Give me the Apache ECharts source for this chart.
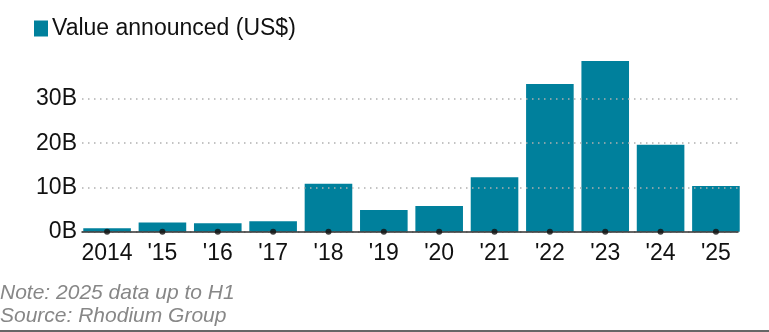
<!DOCTYPE html>
<html>
<head>
<meta charset="utf-8">
<script src="https://cdn.jsdelivr.net/npm/echarts@6/dist/echarts.min.js"></script>
<style>
  html, body { margin: 0; padding: 0; background: #fff; }
  #chart { width: 769px; height: 332px; }
</style>
</head>
<body>
<div id="chart"></div>
<script>
// Announced investment value per year, in US$ billions
const categories = ['2014', "'15", "'16", "'17", "'18", "'19", "'20", "'21", "'22", "'23", "'24", "'25"];
const valuesBn = [0.77, 2.1, 1.9, 2.35, 10.8, 4.9, 5.8, 12.3, 33.3, 38.5, 19.6, 10.3];
const yTicks = [0, 10, 20, 30];
const seriesName = 'Value announced (US$)';
const noteLines = ['Note: 2025 data up to H1', 'Source: Rhodium Group'];

const TEAL = '#00809c';
const FONT = '"Liberation Sans", Arial, Helvetica, sans-serif';

const chart = echarts.init(document.getElementById('chart'), null, { renderer: 'canvas' });

chart.setOption({
  animation: false,
  backgroundColor: '#fff',
  legend: {
    data: [{ name: seriesName, icon: 'rect' }],
    left: 29, top: 12,
    itemWidth: 14, itemHeight: 16, itemGap: 10,
    textStyle: { fontFamily: FONT, fontSize: 23, color: '#111', padding: [0, 0, 0, -1] }
  },
  grid: [
    // bars
    { left: 79.4, right: 25.4, top: 54.4, bottom: 100.3 },
    // gridlines, baseline and value labels
    { left: 82, right: 31, top: 99, bottom: 100.3 }
  ],
  xAxis: [
    {
      type: 'category', gridIndex: 0, data: categories,
      axisLine: { show: false }, axisTick: { show: false },
      axisLabel: { fontFamily: FONT, fontSize: 23, color: '#111', margin: 10, interval: 0 }
    },
    {
      type: 'category', gridIndex: 1, data: categories,
      axisLine: { show: true, lineStyle: { color: '#333', width: 1.5 } },
      axisTick: { show: false }, axisLabel: { show: false }, z: 4
    }
  ],
  yAxis: [
    {
      type: 'value', gridIndex: 0, min: 0, max: 40, interval: 10,
      axisLine: { show: false }, axisTick: { show: false },
      axisLabel: { show: false }, splitLine: { show: false }
    },
    {
      type: 'value', gridIndex: 1, min: yTicks[0], max: yTicks[yTicks.length - 1], interval: 10,
      axisLine: { show: false }, axisTick: { show: false },
      axisLabel: {
        fontFamily: FONT, fontSize: 23, color: '#111', margin: 5,
        formatter: v => v + 'B'
      },
      splitLine: { show: true, lineStyle: { color: '#b0b0b0', width: 1.5, type: [1.5, 4.5] } },
      z: 3
    }
  ],
  series: [
    {
      name: seriesName, type: 'bar', xAxisIndex: 0, yAxisIndex: 0,
      data: valuesBn, barCategoryGap: '14%',
      itemStyle: { color: TEAL }
    },
    {
      // tick dots at each category on the baseline
      type: 'scatter', xAxisIndex: 0, yAxisIndex: 0,
      data: categories.map(() => 0),
      symbol: 'circle', symbolSize: 6,
      itemStyle: { color: '#111' }, z: 5, silent: true
    }
  ],
  graphic: [
    {
      type: 'text', left: 0, top: 283,
      style: { text: noteLines[0], fontFamily: FONT, fontSize: 21, fontStyle: 'italic', fill: '#878787' }
    },
    {
      type: 'text', left: 0, top: 306,
      style: { text: noteLines[1], fontFamily: FONT, fontSize: 21, fontStyle: 'italic', fill: '#878787' }
    },
    {
      type: 'line', shape: { x1: 0, y1: 331, x2: 769, y2: 331 },
      style: { stroke: '#666', lineWidth: 2 }
    }
  ]
});
</script>
</body>
</html>
